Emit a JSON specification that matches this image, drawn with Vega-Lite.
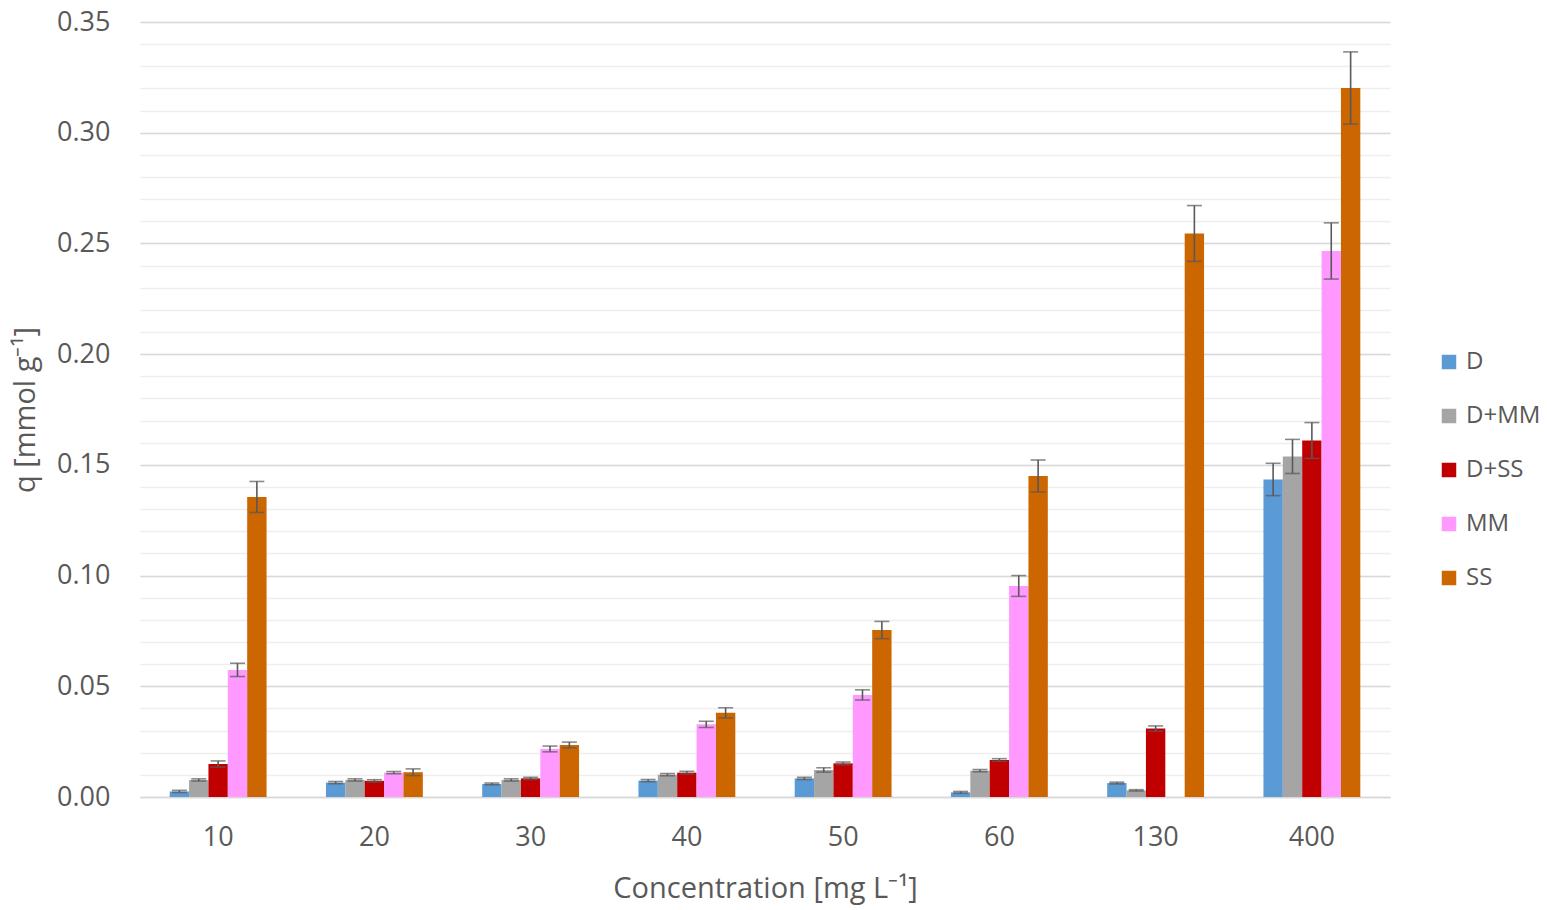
{
  "$schema": "https://vega.github.io/schema/vega-lite/v6.json",
  "width": 1250,
  "height": 775,
  "autosize": "none",
  "padding": {"left": 140, "top": 22, "right": 157, "bottom": 113},
  "background": "white",
  "config": {
    "font": "Open Sans",
    "view": {"stroke": null}
  },
  "data": {
    "values": [
      {"c": "10", "s": "D", "q": 0.0025, "e": 0.0005},
      {"c": "10", "s": "D+MM", "q": 0.0077, "e": 0.0005},
      {"c": "10", "s": "D+SS", "q": 0.0149, "e": 0.0014},
      {"c": "10", "s": "MM", "q": 0.0574, "e": 0.003},
      {"c": "10", "s": "SS", "q": 0.1355, "e": 0.007},
      {"c": "20", "s": "D", "q": 0.0065, "e": 0.0005},
      {"c": "20", "s": "D+MM", "q": 0.0077, "e": 0.0005},
      {"c": "20", "s": "D+SS", "q": 0.0073, "e": 0.0005},
      {"c": "20", "s": "MM", "q": 0.011, "e": 0.0005},
      {"c": "20", "s": "SS", "q": 0.0112, "e": 0.0015},
      {"c": "30", "s": "D", "q": 0.0059, "e": 0.0004},
      {"c": "30", "s": "D+MM", "q": 0.0077, "e": 0.0005},
      {"c": "30", "s": "D+SS", "q": 0.0084, "e": 0.0005},
      {"c": "30", "s": "MM", "q": 0.0217, "e": 0.0013},
      {"c": "30", "s": "SS", "q": 0.0235, "e": 0.0013},
      {"c": "40", "s": "D", "q": 0.0074, "e": 0.0005},
      {"c": "40", "s": "D+MM", "q": 0.0101, "e": 0.0005},
      {"c": "40", "s": "D+SS", "q": 0.011, "e": 0.0006},
      {"c": "40", "s": "MM", "q": 0.0328, "e": 0.0014},
      {"c": "40", "s": "SS", "q": 0.038, "e": 0.0023},
      {"c": "50", "s": "D", "q": 0.0084, "e": 0.0005},
      {"c": "50", "s": "D+MM", "q": 0.0122, "e": 0.001},
      {"c": "50", "s": "D+SS", "q": 0.0152, "e": 0.0006},
      {"c": "50", "s": "MM", "q": 0.0461, "e": 0.0023},
      {"c": "50", "s": "SS", "q": 0.0754, "e": 0.0039},
      {"c": "60", "s": "D", "q": 0.0021, "e": 0.0004},
      {"c": "60", "s": "D+MM", "q": 0.0119, "e": 0.0005},
      {"c": "60", "s": "D+SS", "q": 0.0167, "e": 0.0006},
      {"c": "60", "s": "MM", "q": 0.0953, "e": 0.0047},
      {"c": "60", "s": "SS", "q": 0.145, "e": 0.0072},
      {"c": "130", "s": "D", "q": 0.0063, "e": 0.0004},
      {"c": "130", "s": "D+MM", "q": 0.003, "e": 0.0003},
      {"c": "130", "s": "D+SS", "q": 0.0309, "e": 0.0012},
      {"c": "130", "s": "SS", "q": 0.2545, "e": 0.0126},
      {"c": "400", "s": "D", "q": 0.1434, "e": 0.0073},
      {"c": "400", "s": "D+MM", "q": 0.1538, "e": 0.0077},
      {"c": "400", "s": "D+SS", "q": 0.161, "e": 0.0081},
      {"c": "400", "s": "MM", "q": 0.2466, "e": 0.0127},
      {"c": "400", "s": "SS", "q": 0.3202, "e": 0.0163}
    ]
  },
  "encoding": {
    "x": {
      "field": "c",
      "type": "nominal",
      "sort": ["10", "20", "30", "40", "50", "60", "130", "400"],
      "scale": {"paddingInner": 0.38, "paddingOuter": 0.19},
      "title": "Concentration [mg L⁻¹]",
      "axis": {
        "labelAngle": 0,
        "labelFontSize": 27,
        "labelColor": "#595959",
        "labelPadding": 27,
        "ticks": false,
        "domainColor": "#d9d9d9",
        "domainWidth": 1.5,
        "titleFontSize": 29,
        "titleFontWeight": "normal",
        "titleColor": "#595959",
        "titlePadding": 24
      }
    },
    "xOffset": {
      "field": "s",
      "type": "nominal",
      "sort": ["D", "D+MM", "D+SS", "MM", "SS"],
      "scale": {"domain": ["D", "D+MM", "D+SS", "MM", "SS"], "padding": 0}
    }
  },
  "layer": [
    {
      "mark": {"type": "bar", "opacity": 0},
      "encoding": {
        "y": {
          "field": "q",
          "type": "quantitative",
          "scale": {"domain": [0, 0.35], "nice": false},
          "axis": {
            "values": [0, 0.01, 0.02, 0.03, 0.04, 0.05, 0.06, 0.07, 0.08, 0.09, 0.1, 0.11, 0.12, 0.13, 0.14, 0.15, 0.16, 0.17, 0.18, 0.19, 0.2, 0.21, 0.22, 0.23, 0.24, 0.25, 0.26, 0.27, 0.28, 0.29, 0.3, 0.31, 0.32, 0.33, 0.34, 0.35],
            "orient": "right",
            "labels": false,
            "ticks": false,
            "domain": false,
            "title": null,
            "grid": true,
            "gridColor": "#eeeeee",
            "gridWidth": 1.5,
            "zindex": 0
          }
        }
      }
    },
    {
      "mark": {"type": "bar"},
      "encoding": {
        "y": {
          "field": "q",
          "type": "quantitative",
          "title": "q [mmol g⁻¹]",
          "axis": {
            "values": [0, 0.05, 0.1, 0.15, 0.2, 0.25, 0.3, 0.35],
            "format": ".2f",
            "labelFontSize": 27,
            "labelColor": "#595959",
            "labelPadding": 30,
            "ticks": false,
            "domain": false,
            "grid": true,
            "gridColor": "#d9d9d9",
            "gridWidth": 1.5,
            "titleFontSize": 29,
            "titleFontWeight": "normal",
            "titleColor": "#595959",
            "titlePadding": 16,
            "zindex": 0
          }
        },
        "color": {
          "field": "s",
          "type": "nominal",
          "sort": ["D", "D+MM", "D+SS", "MM", "SS"],
          "scale": {
            "domain": ["D", "D+MM", "D+SS", "MM", "SS"],
            "range": ["#5b9bd5", "#a5a5a5", "#c00000", "#ff99ff", "#cc6600"]
          },
          "legend": {
            "title": null,
            "orient": "none",
            "legendX": 1297,
            "legendY": 328,
            "symbolType": "square",
            "symbolSize": 210,
            "symbolStrokeWidth": 0,
            "labelFontSize": 24,
            "labelColor": "#595959",
            "labelOffset": 5,
            "rowPadding": 30
          }
        }
      }
    },
    {
      "mark": {
        "type": "errorbar",
        "color": "#595959",
        "thickness": 1.6,
        "ticks": {"size": 15}
      },
      "encoding": {
        "y": {"field": "q", "type": "quantitative", "axis": null},
        "yError": {"field": "e"}
      }
    }
  ],
  "resolve": {"axis": {"y": "independent"}}
}
